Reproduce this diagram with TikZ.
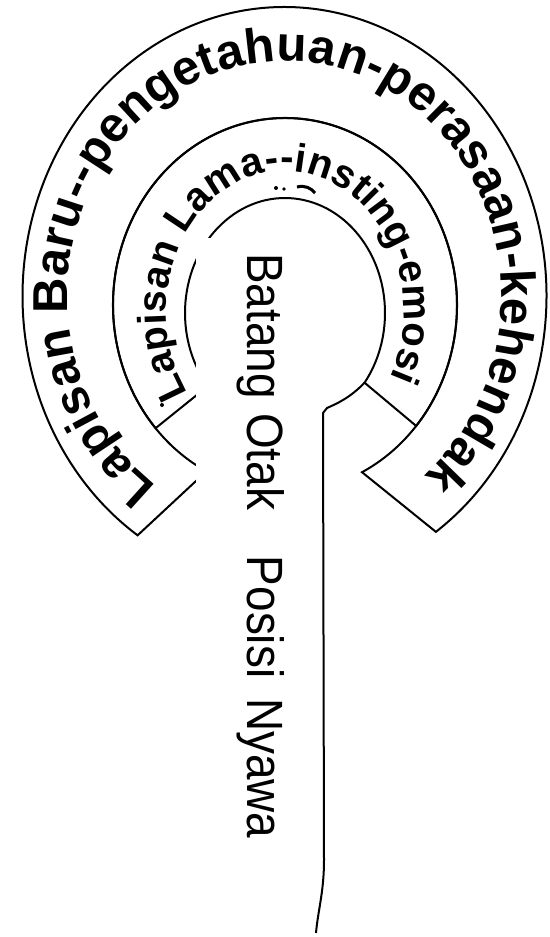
\documentclass[tikz,border=0pt]{standalone}
\usepackage{fontspec}
\setmainfont{Liberation Sans}
\usetikzlibrary{calc,decorations.text}
\newcommand\outerfont{\fontsize{49}{56}\selectfont\bfseries}
\newcommand\innerfont{\fontsize{40}{46}\selectfont\bfseries}
\tikzset{
  ringline/.style={draw=black, line width=2pt, line join=miter},
  boxfill/.style={fill=white, draw=none},
}
\begin{document}
\begin{tikzpicture}[x=1pt,y=1pt]
\useasboundingbox (0,0) rectangle (549,-937);
% centres of the three boundaries
\coordinate (Co) at (284.5,-296);
\coordinate (Cm) at (285,-305);
\coordinate (Ci) at (285,-313);
% outer ring: Lapisan Baru
\draw[ringline] ($(Co)+(-54.7:262pt and 289pt)$)
   arc[start angle=-54.7, end angle=235.9, x radius=262pt, y radius=289pt]
   -- ($(Cm)+(242.8:172pt and 187pt)$)
   arc[start angle=242.8, end angle=-63.4, x radius=172pt, y radius=187pt]
   -- cycle;
% inner ring: Lapisan Lama
\draw[ringline] ($(Cm)+(-40.3:172pt and 187pt)$)
   arc[start angle=-40.3, end angle=221.2, x radius=172pt, y radius=187pt]
   -- ($(Ci)+(219.5:100pt and 115pt)$)
   arc[start angle=219.5, end angle=-37.3, x radius=100pt, y radius=115pt]
   -- cycle;
% brain stem: head joined to the stalk
\draw[ringline] ($(Ci)+(-37.3:100pt and 115pt)$)
   .. controls (350,-398) and (336,-404) .. (327,-408)
   -- (323,-413) -- (324,-860)
   .. controls (324,-892) and (318,-910) .. (316,-933);
% white text box of the stalk label
\path[boxfill] (196,-238) rectangle (305,-900);
% small stray marks
\fill (162,-405) circle (2pt);
\fill (276,-188) circle (2pt);
\fill (284,-189) circle (1.8pt);
\draw[line width=3pt] (297,-187) .. controls (305,-185) and (311,-188) .. (315,-193);
% texts along the rings
\path[decorate, decoration={text along path,
   text={|\outerfont|Lapisan Baru--pengetahuan-perasaan-kehendak},
   text align={fit to path}}]
   ($(Co)+(234:217pt and 235pt)$)
   arc[start angle=234, end angle=-50, x radius=217pt, y radius=235pt];
\path[decorate, decoration={text along path,
   text={|\innerfont|Lapisan Lama--insting-emosi},
   text align={fit to path}}]
   ($(285,-312)+(215:119pt and 141pt)$)
   arc[start angle=215, end angle=-28, x radius=119pt, y radius=141pt];
% vertical label
\node[rotate=-90, anchor=base west, inner sep=0pt, font=\fontsize{51}{51}\selectfont]
   (stem) at (247,-253)
   {\scalebox{0.9}[1]{Batang\hspace{16pt}Otak\hspace{51pt}Posisi\hspace{22pt}Nyawa}};
\end{tikzpicture}
\end{document}
